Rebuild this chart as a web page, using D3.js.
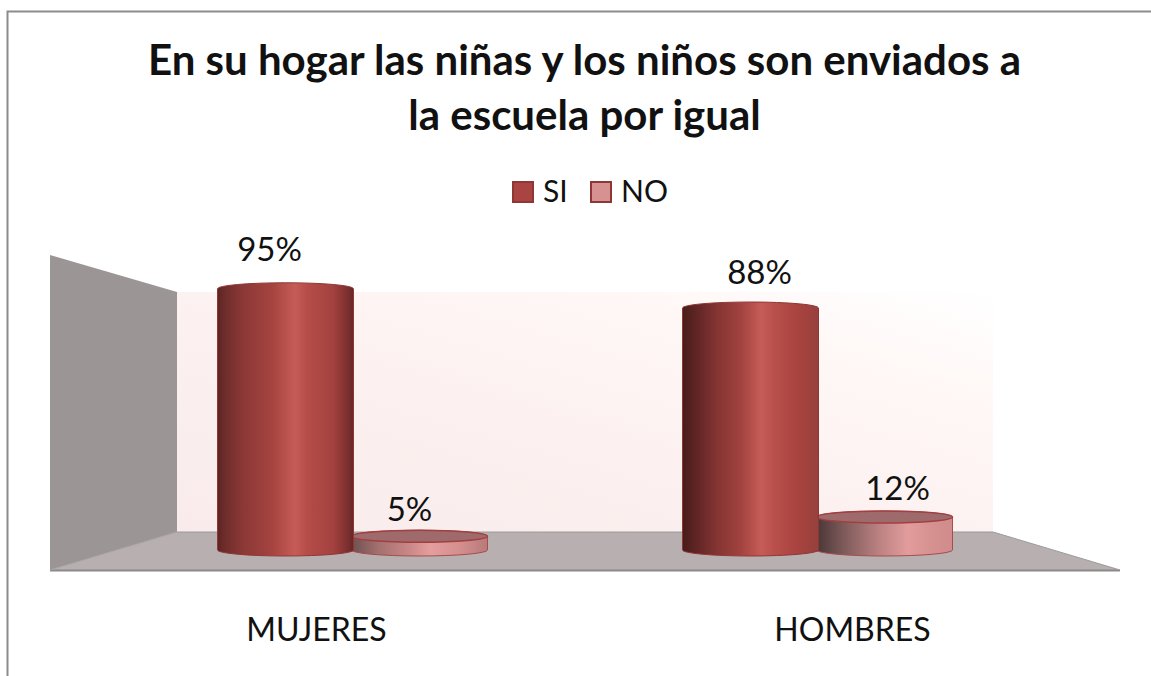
<!DOCTYPE html>
<html><head><meta charset="utf-8">
<script src="https://cdn.jsdelivr.net/npm/d3@7"></script>
<style>html,body{margin:0;padding:0;background:#fff}svg{display:block}text{font-family:Lato,"Open Sans",sans-serif;fill:#111}</style>
</head><body><svg id="c" width="1151" height="676"></svg>
<script>
const titleLines=["En su hogar las niñas y los niños son enviados a","la escuela por igual"];
const categories=["MUJERES","HOMBRES"];
const seriesNames=["SI","NO"];
const siValues=[95,88];
const noValues=[5,12];
const seriesValues=[siValues,noValues];

const svg=d3.select("#c");
const defs=svg.append("defs");
function grad(id,stops,a){
  const g=defs.append("linearGradient").attr("id",id);
  if(a){g.attr("x1",a[0]).attr("y1",a[1]).attr("x2",a[2]).attr("y2",a[3]);}
  stops.forEach(s=>g.append("stop").attr("offset",s[0]).attr("stop-color",s[1]));
}
grad("wall",[[0,"#f9ebeb"],[0.45,"#fcf1f0"],[0.78,"#fff8f7"],[1,"#ffffff"]],[0,1,1,0]);
grad("si0",[[0,"#5a2322"],[0.04,"#6a2b2a"],[0.18,"#8a3836"],[0.4,"#a5433f"],[0.57,"#c65c57"],[0.66,"#b54c48"],[0.85,"#a3423f"],[0.97,"#762d2c"],[1,"#662726"]]);
grad("si1",[[0,"#471c1a"],[0.1,"#5f2524"],[0.25,"#833432"],[0.42,"#a0413e"],[0.58,"#c65c57"],[0.68,"#b84f4b"],[0.85,"#a8433f"],[1,"#96403c"]]);
grad("no0",[[0,"#6e5050"],[0.2,"#a47070"],[0.45,"#cf8a8a"],[0.58,"#e59e9e"],[0.8,"#d48e8e"],[1,"#b87a7a"]]);
grad("no1",[[0,"#493636"],[0.2,"#7e5a5a"],[0.45,"#b98080"],[0.67,"#e29c9c"],[0.85,"#d59090"],[1,"#d08c8c"]]);

// frame
svg.append("path").attr("d","M7.5,676V11.5H1151").attr("fill","none").attr("stroke","#8c8c8c").attr("stroke-width",2);

// title
svg.append("g").selectAll("text").data(titleLines).join("text")
  .attr("x",584.5).attr("y",(d,i)=>74.5+i*55).attr("text-anchor","middle")
  .attr("font-size",42).attr("font-weight",700).attr("fill","#0a0a0a").text(d=>d);

// 3D room
const room={x0:50,x1:177,x2:993,x3:1120,wallTop:255,backTop:292,backBase:532,frontBase:570};
const line=d3.line();
svg.append("path").attr("d",line([[room.x1,room.backTop],[room.x2,room.backTop],[room.x2,room.backBase],[room.x1,room.backBase]])+"Z").attr("fill","url(#wall)");
svg.append("path").attr("d",line([[room.x0,room.wallTop],[room.x1,room.backTop],[room.x1,room.backBase],[room.x0,room.frontBase]])+"Z").attr("fill","#9b9595");
svg.append("path").attr("d",line([[room.x0,room.frontBase],[room.x1,room.backBase],[room.x2,room.backBase],[room.x3,room.frontBase]])+"Z").attr("fill","#b7afb0");
svg.append("path").attr("d",line([[room.x0,room.frontBase+0.5],[room.x3,room.frontBase+0.5]])).attr("stroke","#8a8a8a").attr("stroke-width",2).attr("fill","none");
svg.append("path").attr("d",line([[room.x1,room.backBase],[room.x2,room.backBase],[room.x3,room.frontBase]])).attr("stroke","#9a9a9a").attr("fill","none");
svg.append("path").attr("d",line([[room.x0,room.frontBase],[room.x1,room.backBase]])).attr("stroke","#a8a3a3").attr("fill","none");

// scales
const x=d3.scaleBand().domain(categories).range([120,1050]);
const xs=d3.scaleBand().domain(seriesNames).range([-134,134]);
const y=d3.scaleLinear().domain([0,100]).range([550,275]);
const ry=6;
// perspective shift of the data labels, per category and series
const labelDx=[[-16,-10],[9,13]];
const labelDy=[[-28,-15],[-24,-17]];
const catDx=[-36,35];

const cyl=[];
categories.forEach((c,ci)=>seriesNames.forEach((s,si)=>{
  cyl.push({cat:c,ci,ser:s,si,val:seriesValues[si][ci]});
}));
// draw NO first so that SI overlaps it
const g=svg.append("g");
[1,0,3,2].map(i=>cyl[i]).forEach(d=>{
  const rx=xs.bandwidth()/2+1;
  const cx=x(d.cat)+x.bandwidth()/2+xs(d.ser)+xs.bandwidth()/2;
  const yt=y(d.val), yb=y(0);
  const isSi=d.si===0;
  g.append("path").attr("d",`M${cx-rx},${yt}V${yb}A${rx},${ry} 0 0 0 ${cx+rx},${yb}V${yt}A${rx},${ry} 0 0 0 ${cx-rx},${yt}Z`)
    .attr("fill",`url(#${isSi?"si":"no"}${d.ci})`).attr("stroke",isSi?"#8f3735":"#a84c4c").attr("stroke-width",1);
  if(!isSi){
    g.append("ellipse").attr("cx",cx).attr("cy",yt).attr("rx",rx).attr("ry",ry)
      .attr("fill","#9f6a6c").attr("stroke","#a23f40").attr("stroke-width",1.5);
  }
  svg.append("text").attr("x",cx+labelDx[d.ci][d.si]).attr("y",yt+labelDy[d.ci][d.si])
    .attr("text-anchor","middle").attr("font-size",33).attr("font-weight",400).text(d.val+"%");
});

// category labels
svg.append("g").selectAll("text").data(categories).join("text")
  .attr("x",(d,i)=>x(d)+x.bandwidth()/2+catDx[i]).attr("y",641).attr("text-anchor","middle")
  .attr("font-size",32).text(d=>d);

// legend
const legendX=[512,590], legendFill=["#a94442","#d79191"];
const lg=svg.append("g");
seriesNames.forEach((s,i)=>{
  lg.append("rect").attr("x",legendX[i]+1).attr("y",182).attr("width",20).attr("height",20)
    .attr("fill",legendFill[i]).attr("stroke","#8f3735").attr("stroke-width",2);
  lg.append("text").attr("x",legendX[i]+31).attr("y",202).attr("font-size",30).text(s);
});
</script></body></html>
